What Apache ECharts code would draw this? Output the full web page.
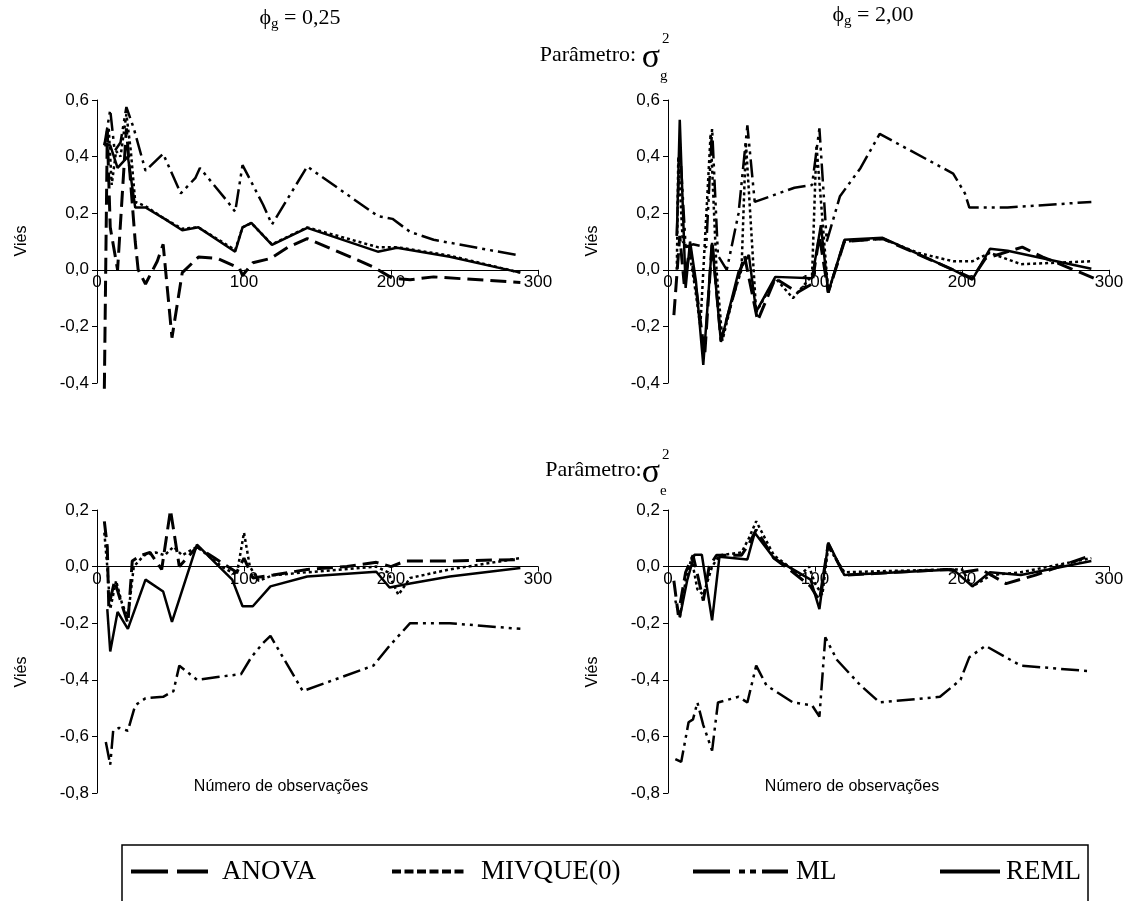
<!DOCTYPE html>
<html>
<head>
<meta charset="utf-8">
<script src="https://cdn.jsdelivr.net/npm/echarts@6.0.0/dist/echarts.min.js"></script>
<style>
  html, body { margin: 0; padding: 0; background: #fff; }
  #chart { width: 1135px; height: 901px; }
</style>
</head>
<body>
<div id="chart"></div>
<script>
// bias vs number of observations, [obs, bias]
// sigma_g^2, phi_g = 0,25
const p1Anova = [[5,-0.42],[7,0.49],[9,0.15],[12,0.06],[14,0.0],[20,0.5],[26,0.1],[28,0.0],[33,-0.05],[41,0.03],[45,0.09],[51,-0.24],[58,-0.01],[69,0.045],[82,0.04],[97,0.005],[99,-0.02],[106,0.025],[118,0.04],[130,0.08],[143,0.11],[177,0.035],[188,0.01],[201,-0.03],[213,-0.035],[229,-0.025],[288,-0.045]];
const p1Mivque = [[5,0.44],[8,0.5],[10,0.3],[13,0.42],[16,0.4],[20,0.55],[23,0.42],[26,0.24],[33,0.225],[46,0.18],[58,0.145],[69,0.15],[94,0.07],[99,0.15],[105,0.165],[119,0.09],[143,0.15],[191,0.08],[204,0.08],[240,0.05],[288,-0.01]];
const p1Ml = [[5,0.44],[9,0.565],[12,0.42],[16,0.45],[20,0.575],[25,0.5],[33,0.35],[45,0.41],[57,0.27],[67,0.325],[70,0.36],[89,0.24],[94,0.205],[99,0.37],[113,0.23],[119,0.16],[143,0.365],[191,0.19],[201,0.18],[213,0.134],[229,0.106],[288,0.05]];
const p1Reml = [[5,0.44],[9,0.44],[14,0.36],[21,0.4],[26,0.22],[33,0.22],[46,0.18],[58,0.14],[69,0.15],[94,0.064],[99,0.15],[105,0.166],[119,0.088],[143,0.148],[191,0.064],[204,0.078],[240,0.046],[288,-0.01]];

// sigma_g^2, phi_g = 2,00
const p2Anova = [[4,-0.16],[8,0.12],[11,-0.05],[15,0.08],[20,-0.1],[25,-0.3],[30,0.1],[36,-0.25],[44,-0.1],[52,0.05],[61,-0.18],[73,-0.03],[88,-0.08],[98,-0.05],[103,0.12],[109,-0.08],[120,0.1],[146,0.11],[194,0.0],[207,-0.03],[216,0.04],[241,0.08],[255,0.045],[290,-0.03]];
const p2Mivque = [[6,0.0],[7,0.4],[10,0.1],[14,0.08],[18,-0.05],[22,-0.2],[29,0.48],[33,0.0],[37,-0.25],[44,-0.1],[50,0.0],[53,0.45],[60,-0.15],[73,-0.03],[85,-0.1],[98,-0.02],[101,0.44],[109,-0.08],[120,0.1],[146,0.11],[170,0.06],[194,0.03],[207,0.03],[219,0.06],[240,0.02],[288,0.03]];
const p2Ml = [[6,0.12],[8,0.45],[12,0.08],[17,0.09],[26,0.08],[30,0.5],[34,0.05],[40,0.0],[48,0.2],[54,0.51],[59,0.24],[86,0.29],[98,0.3],[103,0.5],[108,0.1],[117,0.26],[131,0.36],[144,0.48],[194,0.34],[202,0.27],[205,0.22],[231,0.22],[288,0.24]];
const p2Reml = [[6,0.12],[8,0.53],[12,-0.064],[15,0.1],[19,-0.04],[24,-0.336],[30,0.095],[36,-0.255],[48,-0.007],[55,0.053],[60,-0.148],[73,-0.025],[98,-0.03],[104,0.158],[109,-0.08],[120,0.106],[146,0.113],[194,0.0],[207,-0.035],[219,0.074],[231,0.067],[288,0.004]];

// sigma_e^2, phi_g = 0,25
const p3Anova = [[5,0.16],[7,0.07],[8,-0.14],[12,-0.05],[16,-0.12],[21,-0.2],[24,0.02],[30,0.04],[36,0.05],[44,-0.01],[50,0.2],[56,0.0],[68,0.07],[80,0.03],[95,-0.02],[100,0.03],[106,-0.04],[120,-0.03],[143,-0.01],[170,0.0],[190,0.015],[200,0.0],[210,0.02],[240,0.02],[288,0.025]];
const p3Mivque = [[5,0.12],[7,0.0],[9,-0.15],[13,-0.05],[17,-0.13],[21,-0.18],[25,0.0],[32,0.04],[40,0.05],[46,0.04],[52,0.07],[58,0.04],[68,0.07],[85,0.0],[95,-0.03],[100,0.12],[104,0.0],[110,-0.05],[120,-0.03],[143,-0.02],[190,0.0],[198,-0.02],[205,-0.1],[213,-0.04],[240,-0.01],[288,0.03]];
const p3Ml = [[6,-0.62],[9,-0.7],[11,-0.58],[15,-0.57],[21,-0.58],[26,-0.49],[33,-0.465],[45,-0.46],[52,-0.44],[56,-0.35],[68,-0.4],[82,-0.39],[98,-0.38],[105,-0.32],[113,-0.27],[118,-0.245],[140,-0.44],[188,-0.35],[199,-0.28],[213,-0.2],[240,-0.2],[288,-0.22]];
const p3Reml = [[7,-0.15],[9,-0.3],[14,-0.16],[21,-0.22],[33,-0.046],[45,-0.088],[51,-0.195],[68,0.078],[92,-0.046],[99,-0.14],[106,-0.14],[118,-0.07],[143,-0.035],[190,-0.018],[199,-0.074],[213,-0.06],[240,-0.035],[288,-0.005]];

// sigma_e^2, phi_g = 2,00
const p4Anova = [[4,-0.05],[7,-0.17],[12,-0.02],[17,0.04],[21,-0.05],[24,-0.12],[28,0.0],[33,0.04],[50,0.04],[55,0.08],[60,0.13],[72,0.03],[85,-0.02],[97,-0.07],[103,-0.12],[109,0.08],[120,-0.03],[190,-0.01],[200,-0.02],[213,-0.01],[230,-0.06],[250,-0.03],[288,0.04]];
const p4Mivque = [[5,-0.12],[8,-0.18],[12,-0.05],[16,0.03],[20,-0.08],[24,-0.1],[30,0.0],[35,0.04],[50,0.05],[55,0.1],[60,0.16],[72,0.04],[90,-0.03],[96,0.0],[100,-0.06],[105,-0.1],[109,0.07],[120,-0.02],[190,-0.01],[200,-0.01],[207,-0.07],[220,-0.03],[240,-0.02],[288,0.03]];
const p4Ml = [[5,-0.68],[9,-0.69],[14,-0.55],[17,-0.54],[20,-0.48],[24,-0.56],[30,-0.65],[34,-0.48],[48,-0.46],[54,-0.48],[60,-0.35],[67,-0.42],[85,-0.48],[98,-0.49],[103,-0.53],[107,-0.25],[115,-0.33],[131,-0.42],[144,-0.48],[185,-0.46],[199,-0.4],[205,-0.32],[216,-0.28],[240,-0.35],[288,-0.37]];
const p4Reml = [[8,-0.18],[13,-0.05],[18,0.042],[23,0.042],[30,-0.19],[35,0.035],[54,0.025],[59,0.12],[72,0.03],[97,-0.046],[103,-0.15],[109,0.085],[120,-0.03],[194,-0.01],[207,-0.07],[219,-0.02],[240,-0.03],[288,0.02]];

const methods = ['ANOVA', 'MIVQUE(0)', 'ML', 'REML'];
const panels = [
  [p1Anova, p1Mivque, p1Ml, p1Reml],
  [p2Anova, p2Mivque, p2Ml, p2Reml],
  [p3Anova, p3Mivque, p3Ml, p3Reml],
  [p4Anova, p4Mivque, p4Ml, p4Reml]
];
const yRanges = [[-0.4, 0.6], [-0.4, 0.6], [-0.8, 0.2], [-0.8, 0.2]];

const serif = 'Liberation Serif';
const sans = 'Liberation Sans';

// line patterns, close to the old spreadsheet ones
const dash = {
  'ANOVA': [16, 7],
  'MIVQUE(0)': [3, 3],
  'ML': [18, 5, 3, 5, 3, 5],
  'REML': 'solid'
};
const legendDash = {
  'ANOVA': [37, 9],
  'MIVQUE(0)': [9, 3.5],
  'ML': [37, 9, 6, 5, 6, 6],
  'REML': 'solid'
};

const plotH = 283;
const gridPos = [
  { left: 97, top: 100 },
  { left: 668, top: 100 },
  { left: 97, top: 510 },
  { left: 668, top: 510 }
];

const chart = echarts.init(document.getElementById('chart'));

const series = [];
panels.forEach((sets, p) => {
  sets.forEach((d, m) => {
    series.push({
      name: methods[m],
      type: 'line',
      xAxisIndex: p,
      yAxisIndex: p,
      data: d,
      symbol: 'none',
      clip: false,
      itemStyle: { color: '#000' },
      lineStyle: { color: '#000', width: m === 0 ? 3 : 2.5, type: dash[methods[m]] },
      z: 3 + m
    });
  });
});

// legend sample positions taken from the figure
const legendLeft = [129, 390, 691, 938];
const legendIconW = [77, 74, 95, 60];
const legendTextGap = [9, 10, 3, 1];
const legends = methods.map((name, i) => ({
  data: [name],
  left: legendLeft[i],
  top: 858,
  padding: 0,
  itemWidth: legendIconW[i],
  itemHeight: 14,
  itemStyle: { opacity: 0 },
  lineStyle: { width: 4, type: legendDash[name], color: '#000' },
  textStyle: { fontFamily: serif, fontSize: 27, color: '#000', padding: [0, 0, 0, legendTextGap[i]] },
  selectedMode: false
}));

const fmt = v => Math.abs(v) < 1e-9 ? '0,0' : v.toFixed(1).replace('.', ',');

const option = {
  animation: false,
  backgroundColor: '#fff',
  grid: gridPos.map(g => ({ left: g.left, top: g.top, width: 441, height: plotH })),
  // x axis sits on the zero line, labels just under it
  xAxis: yRanges.map((r, i) => ({
    type: 'value',
    gridIndex: i,
    min: 0,
    max: 300,
    interval: 100,
    position: 'bottom',
    offset: -plotH * (0 - r[0]) / (r[1] - r[0]),
    axisLine: { onZero: false, lineStyle: { color: '#000', width: 1 } },
    axisTick: { show: true, length: 5, lineStyle: { color: '#000' } },
    axisLabel: { color: '#000', fontFamily: sans, fontSize: 17, margin: 4 },
    splitLine: { show: false }
  })),
  yAxis: yRanges.map((r, i) => ({
    type: 'value',
    gridIndex: i,
    min: r[0],
    max: r[1],
    interval: 0.2,
    axisLine: { show: true, onZero: false, lineStyle: { color: '#000', width: 1 } },
    axisTick: { show: true, length: 5, lineStyle: { color: '#000' } },
    axisLabel: { color: '#000', fontFamily: sans, fontSize: 17, margin: 8, formatter: fmt },
    splitLine: { show: false }
  })),
  legend: legends,
  series: series,
  graphic: [
    {
      type: 'text', x: 300, y: 18,
      style: {
        text: '{b|ϕ}{s|g}{b| = 0,25}', align: 'center', verticalAlign: 'middle',
        rich: {
          b: { fontFamily: serif, fontSize: 22, fill: '#000', lineHeight: 26 },
          s: { fontFamily: serif, fontSize: 15, fill: '#000', padding: [12, 0, 0, 0] }
        }
      }
    },
    {
      type: 'text', x: 873, y: 15,
      style: {
        text: '{b|ϕ}{s|g}{b| = 2,00}', align: 'center', verticalAlign: 'middle',
        rich: {
          b: { fontFamily: serif, fontSize: 22, fill: '#000', lineHeight: 26 },
          s: { fontFamily: serif, fontSize: 15, fill: '#000', padding: [12, 0, 0, 0] }
        }
      }
    },
    {
      type: 'text', x: 660, y: 55,
      style: {
        text: '{b|Parâmetro: }{g|σ}', align: 'right', verticalAlign: 'middle',
        rich: {
          b: { fontFamily: serif, fontSize: 22, fill: '#000' },
          g: { fontFamily: serif, fontSize: 34, fill: '#000', padding: [6, 0, 0, 0] }
        }
      }
    },
    { type: 'text', x: 662, y: 39, style: { text: '2', font: '15px "Liberation Serif"', fill: '#000', align: 'left', verticalAlign: 'middle' } },
    { type: 'text', x: 660, y: 76, style: { text: 'g', font: '15px "Liberation Serif"', fill: '#000', align: 'left', verticalAlign: 'middle' } },
    {
      type: 'text', x: 660, y: 470,
      style: {
        text: '{b|Parâmetro:}{g|σ}', align: 'right', verticalAlign: 'middle',
        rich: {
          b: { fontFamily: serif, fontSize: 22, fill: '#000' },
          g: { fontFamily: serif, fontSize: 34, fill: '#000', padding: [6, 0, 0, 0] }
        }
      }
    },
    { type: 'text', x: 662, y: 455, style: { text: '2', font: '15px "Liberation Serif"', fill: '#000', align: 'left', verticalAlign: 'middle' } },
    { type: 'text', x: 660, y: 491, style: { text: 'e', font: '15px "Liberation Serif"', fill: '#000', align: 'left', verticalAlign: 'middle' } },
    // y axis names
    { type: 'text', x: 22, y: 241, rotation: Math.PI / 2, style: { text: 'Viés', font: '16px "Liberation Sans"', fill: '#000', align: 'center', verticalAlign: 'middle' } },
    { type: 'text', x: 593, y: 241, rotation: Math.PI / 2, style: { text: 'Viés', font: '16px "Liberation Sans"', fill: '#000', align: 'center', verticalAlign: 'middle' } },
    { type: 'text', x: 22, y: 672, rotation: Math.PI / 2, style: { text: 'Viés', font: '16px "Liberation Sans"', fill: '#000', align: 'center', verticalAlign: 'middle' } },
    { type: 'text', x: 593, y: 672, rotation: Math.PI / 2, style: { text: 'Viés', font: '16px "Liberation Sans"', fill: '#000', align: 'center', verticalAlign: 'middle' } },
    // x axis names
    { type: 'text', x: 281, y: 787, style: { text: 'Número de observações', font: '16px "Liberation Sans"', fill: '#000', align: 'center', verticalAlign: 'middle' } },
    { type: 'text', x: 852, y: 787, style: { text: 'Número de observações', font: '16px "Liberation Sans"', fill: '#000', align: 'center', verticalAlign: 'middle' } },
    // legend frame
    { type: 'rect', shape: { x: 122, y: 845, width: 966, height: 80 }, style: { fill: 'none', stroke: '#000', lineWidth: 1.5 } }
  ]
};

chart.setOption(option);
</script>
</body>
</html>
